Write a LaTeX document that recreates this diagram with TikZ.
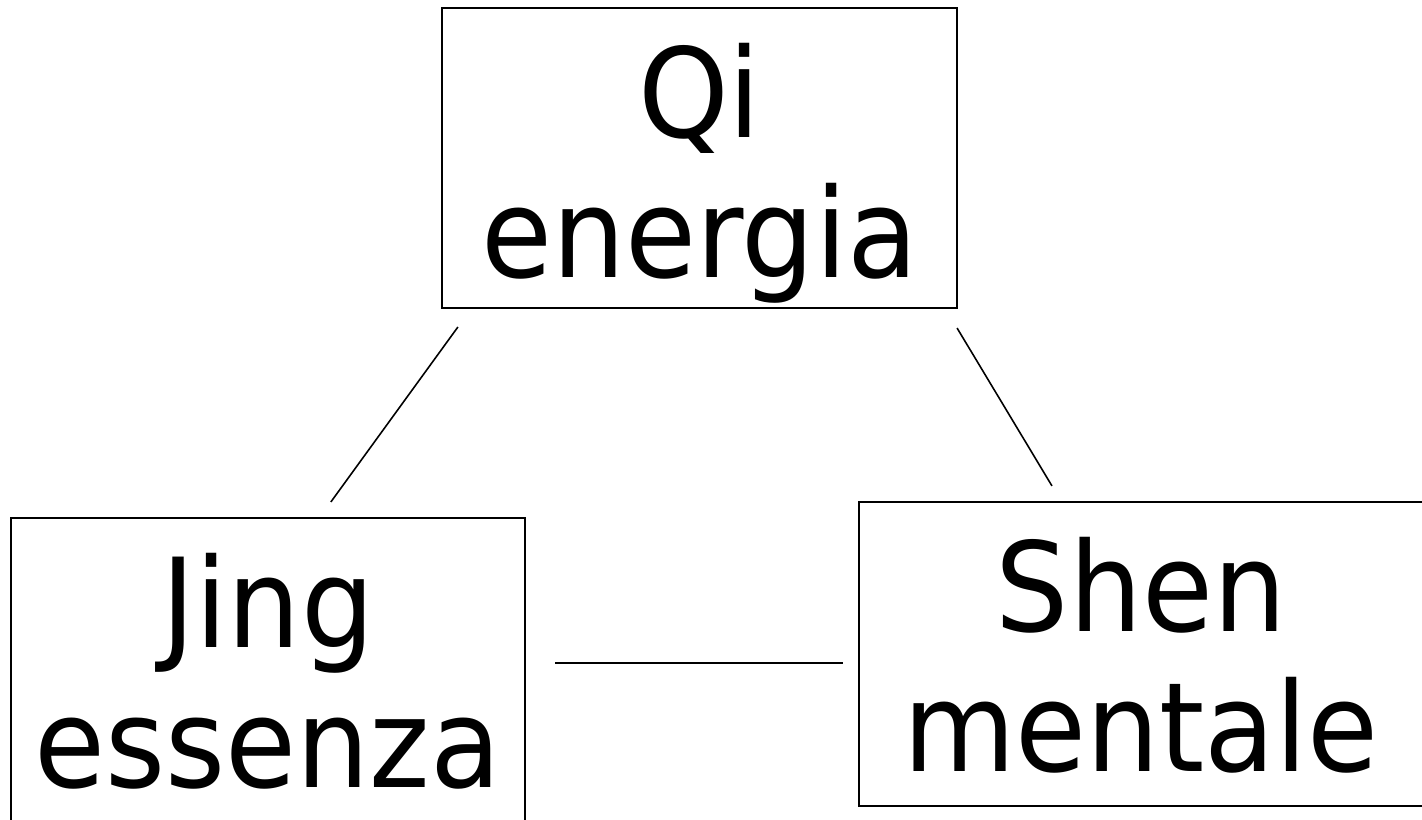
\documentclass[tikz,border=0pt]{standalone}
\usepackage{fontspec}
\setmainfont{DejaVu Sans}[FakeStretch=0.93]
\begin{document}
\begin{tikzpicture}[
        box/.style={draw, line width=0.6pt, inner sep=0pt, align=center,
            font=\fontsize{35.3}{39.8}\selectfont,
            text height=1.30cm, text depth=1.70cm},
        link/.style={line width=0.45pt}
    ]
    \useasboundingbox (0,0) rectangle (14.22,8.20);

    % Caselle
    \node[box, text width=5.15cm] (qi) at (6.995,6.62) {Qi\\energia};
    \node[box, text width=5.14cm, text depth=1.74cm] (jing) at (2.68,1.50) {Jing\\essenza};
    \node[box, text width=5.64cm, text depth=1.74cm] (shen) at (11.41,1.66) {Shen\\mentale};

    % Collegamenti
    \draw[link, shorten <=0.222cm, shorten >=0.185cm]
        ([xshift=0.30cm]qi.south west) -- ([xshift=0.52cm]jing.north);
    \draw[link, shorten <=0.222cm, shorten >=0.175cm]
        ([xshift=-0.124cm]qi.south east) -- ([xshift=-0.80cm]shen.north);
    \draw[link, shorten <=0.29cm, shorten >=0.15cm]
        ([yshift=0.07cm]jing.east) -- ([yshift=-0.09cm]shen.west);
\end{tikzpicture}
\end{document}
